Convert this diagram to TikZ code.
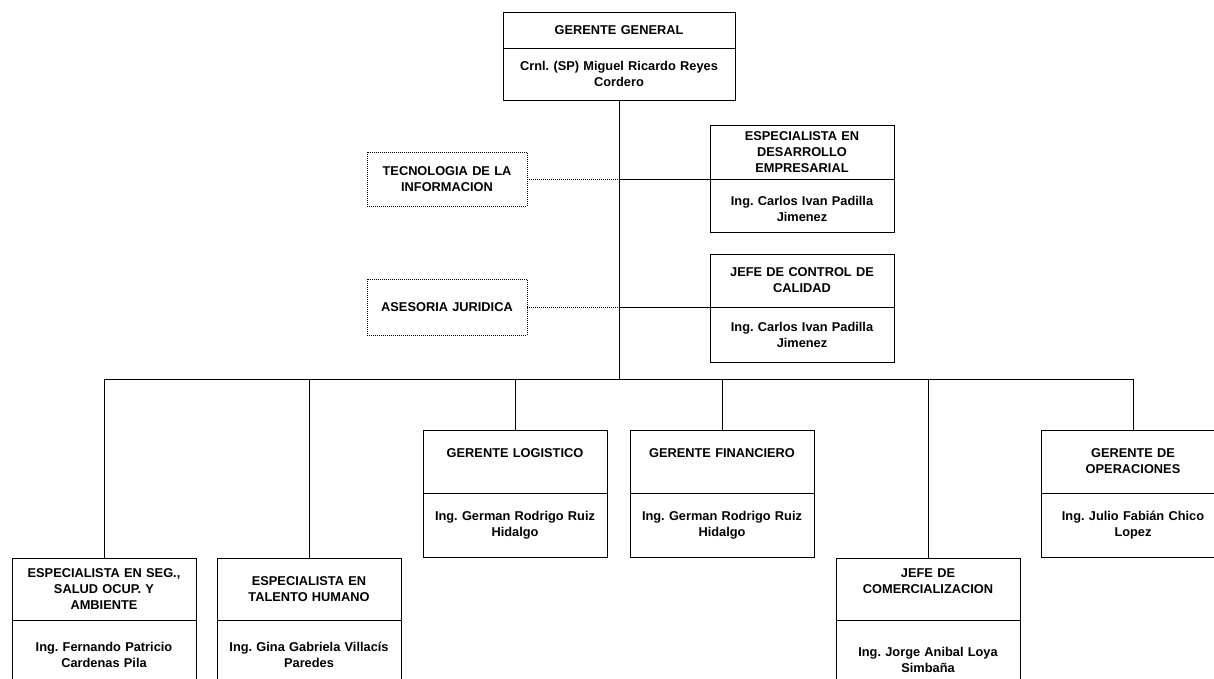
\documentclass[tikz,border=0pt]{standalone}
\usepackage{fontspec}
\setmainfont{Liberation Sans}
\frenchspacing

\begin{document}
\begin{tikzpicture}[x=1pt, y=-1pt]
        \tikzstyle{org_part}  = [shape = rectangle, draw = black, line width = 0.8pt, align = center,
                                 inner xsep = 4pt, inner ysep = 0pt, outer sep = 0pt, text width = 176pt,
                                 font = \bfseries\fontsize{12.8}{16}\selectfont]
        \tikzstyle{org_top}   = [org_part, text width = 224pt]
        \tikzstyle{org_staff} = [org_part, text width = 152pt, dash pattern = on 1pt off 1pt]
        \tikzstyle{org_line}  = [draw = black, line width = 0.8pt]

        \useasboundingbox (0, 0) rectangle (1214, 678);

        \node[org_top, minimum height = 36pt] at (619,  30.0) (gg_t) {GERENTE GENERAL};
        \node[org_top, minimum height = 52pt] at (619,  74.0) (gg_n) {Crnl. (SP) Miguel Ricardo Reyes\\Cordero};

        \node[org_part, minimum height = 54pt] at (802, 152.0) (ded_t) {ESPECIALISTA EN\\DESARROLLO\\EMPRESARIAL};
        \node[org_part, minimum height = 53pt] at (802, 205.5) (ded_n) {~\\Ing. Carlos Ivan Padilla\\Jimenez};

        \node[org_part, minimum height = 53pt] at (802, 280.5) (jcc_t) {JEFE DE CONTROL DE\\CALIDAD};
        \node[org_part, minimum height = 55pt] at (802, 334.5) (jcc_n) {Ing. Carlos Ivan Padilla\\Jimenez};

        \node[org_staff, minimum height = 54pt] at (447, 179.0) (ti) {TECNOLOGIA DE LA\\INFORMACION};
        \node[org_staff, minimum height = 56pt] at (447, 307.0) (aj) {ASESORIA JURIDICA};

        \node[org_part, minimum height = 63pt] at (515, 461.5) (glog_t) {GERENTE LOGISTICO\\~};
        \node[org_part, minimum height = 64pt] at (515, 525.0) (glog_n) {Ing. German Rodrigo Ruiz\\Hidalgo};

        \node[org_part, minimum height = 63pt] at (722, 461.5) (gfin_t) {GERENTE FINANCIERO\\~};
        \node[org_part, minimum height = 64pt] at (722, 525.0) (gfin_n) {Ing. German Rodrigo Ruiz\\Hidalgo};

        \node[org_part, minimum height = 63pt] at (1133, 461.5) (gop_t) {GERENTE DE\\OPERACIONES};
        \node[org_part, minimum height = 64pt] at (1133, 525.0) (gop_n) {Ing. Julio Fabián Chico\\Lopez};

        \node[org_part, minimum height = 62pt] at (104, 589.0) (ess_t) {ESPECIALISTA EN SEG.,\\SALUD OCUP. Y\\AMBIENTE};
        \node[org_part, minimum height = 70pt] at (104, 655.0) (ess_n) {Ing. Fernando Patricio\\Cardenas Pila};

        \node[org_part, minimum height = 62pt] at (309, 589.0) (eth_t) {ESPECIALISTA EN\\TALENTO HUMANO};
        \node[org_part, minimum height = 70pt] at (309, 655.0) (eth_n) {Ing. Gina Gabriela Villacís\\Paredes};

        \node[org_part, minimum height = 62pt] at (928, 589.0) (jcom_t) {JEFE DE\\COMERCIALIZACION\\~};
        \node[org_part, minimum height = 80pt] at (928, 660.0) (jcom_n) {Ing. Jorge Anibal Loya\\Simbaña};

        \coordinate (j_ded) at (619, 179);
        \coordinate (j_jcc) at (619, 307);
        \coordinate (bus_c) at (619, 379);

        \draw[org_line, dash pattern = on 1pt off 1pt]
          (ti) edge (j_ded)
          (aj) edge (j_jcc)
        ;

        \draw[org_line]
          (gg_n) edge (bus_c)
          (j_ded) edge (ded_n.north west)
          (j_jcc) edge (jcc_n.north west)
        ;

        \draw[org_line]
          (bus_c) -| (ess_t)
          (bus_c) -| (eth_t)
          (bus_c) -| (glog_t)
          (bus_c) -| (gfin_t)
          (bus_c) -| (jcom_t)
          (bus_c) -| (gop_t)
        ;
      \end{tikzpicture}
\end{document}
